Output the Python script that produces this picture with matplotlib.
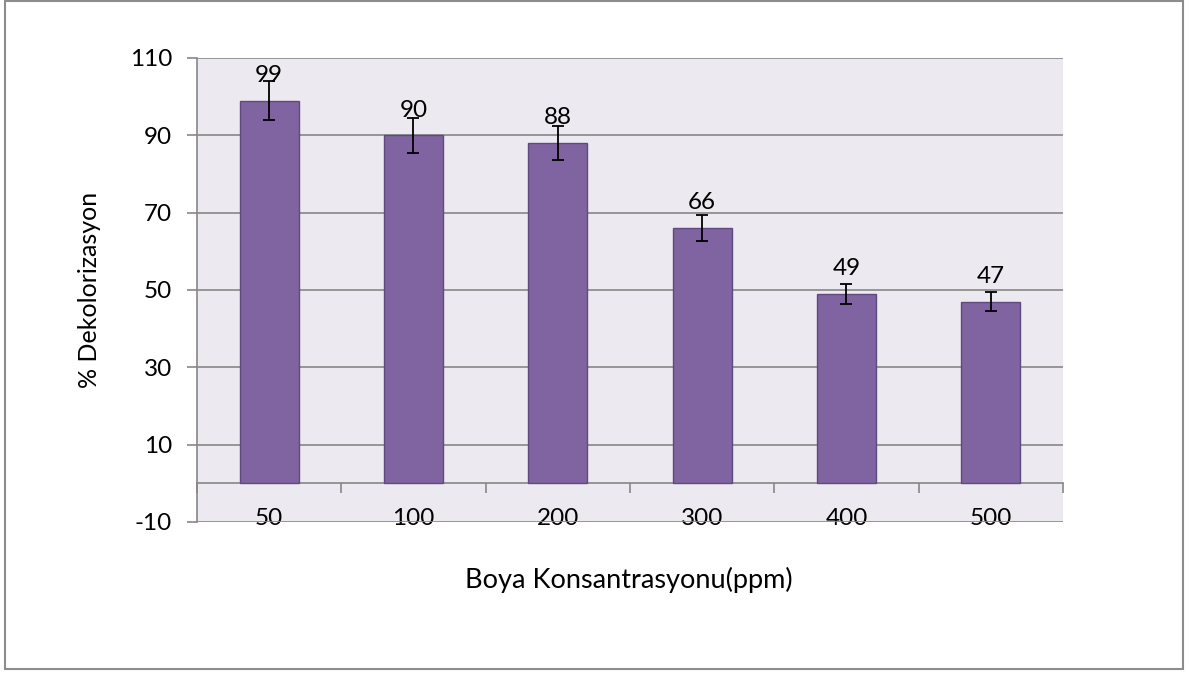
import matplotlib
matplotlib.use("Agg")
import matplotlib.pyplot as plt
from matplotlib.patches import Rectangle

categories = ["50", "100", "200", "300", "400", "500"]
values = [99, 90, 88, 66, 49, 47]
errors = [5.0, 4.5, 4.3, 3.3, 2.5, 2.4]
yticks = [-10, 10, 30, 50, 70, 90, 110]

plt.rcParams['font.family'] = ['Lato', 'DejaVu Sans']

W, H = 1189, 673
fig = plt.figure(figsize=(W / 100, H / 100), dpi=100)
fig.patch.set_facecolor("white")
fig.patches.append(Rectangle((5 / W, 4 / H), (1183 - 5) / W, (672 - 4) / H,
                             transform=fig.transFigure, fill=False,
                             edgecolor="#8c8c8c", linewidth=1.5))

ax = fig.add_axes([197 / W, (H - 522) / H, (1063 - 197) / W, (522 - 58) / H])
ax.set_facecolor("#ECEAF0")

FS = 17.5

x = list(range(len(categories)))
ax.bar(x, values, width=0.41, color="#8064A2", edgecolor="#5E4A7E", linewidth=1, zorder=3)
ax.errorbar(x, values, yerr=errors, fmt="none", ecolor="black", elinewidth=1.3,
            capsize=4.5, capthick=1.3, zorder=4)
for xi, v in zip(x, values):
    ax.annotate(f"{v}", (xi, v), xytext=(0, 13.5), textcoords="offset points",
                ha="center", va="baseline", fontsize=FS, color="black", zorder=5)

ax.set_xlim(-0.5, len(categories) - 0.5)
ax.set_ylim(-10, 110)
ax.set_yticks(yticks)
ax.set_yticklabels([str(t) for t in yticks])
ax.grid(axis="y", color="#878787", linewidth=1.2, zorder=1)
ax.set_axisbelow(True)

for s in ["top", "right"]:
    ax.spines[s].set_visible(False)
ax.spines["left"].set_color("#878787")
ax.spines["left"].set_linewidth(1.2)
ax.spines["bottom"].set_position(("data", 0))
ax.spines["bottom"].set_color("#878787")
ax.spines["bottom"].set_linewidth(1.2)

ax.tick_params(axis="y", direction="out", length=7, width=1.2, color="#878787",
               labelsize=FS, pad=11)
ax.set_xticks([i - 0.5 for i in range(len(categories) + 1)])
ax.set_xticklabels([])
ax.set_xticks(x, minor=True)
ax.set_xticklabels(categories, minor=True)
ax.tick_params(axis="x", which="major", direction="out", length=7, width=1.2, color="#878787")
ax.tick_params(axis="x", which="minor", length=0, labelsize=FS, pad=18)

fig.text(90 / W, 1 - 290 / H, "% Dekolorizasyon", rotation=90, ha="center", va="center",
         fontsize=18)
fig.text(629 / W, 1 - 580 / H, "Boya Konsantrasyonu(ppm)", ha="center", va="center",
         fontsize=19.5)

fig.savefig("out.png", dpi=100)
